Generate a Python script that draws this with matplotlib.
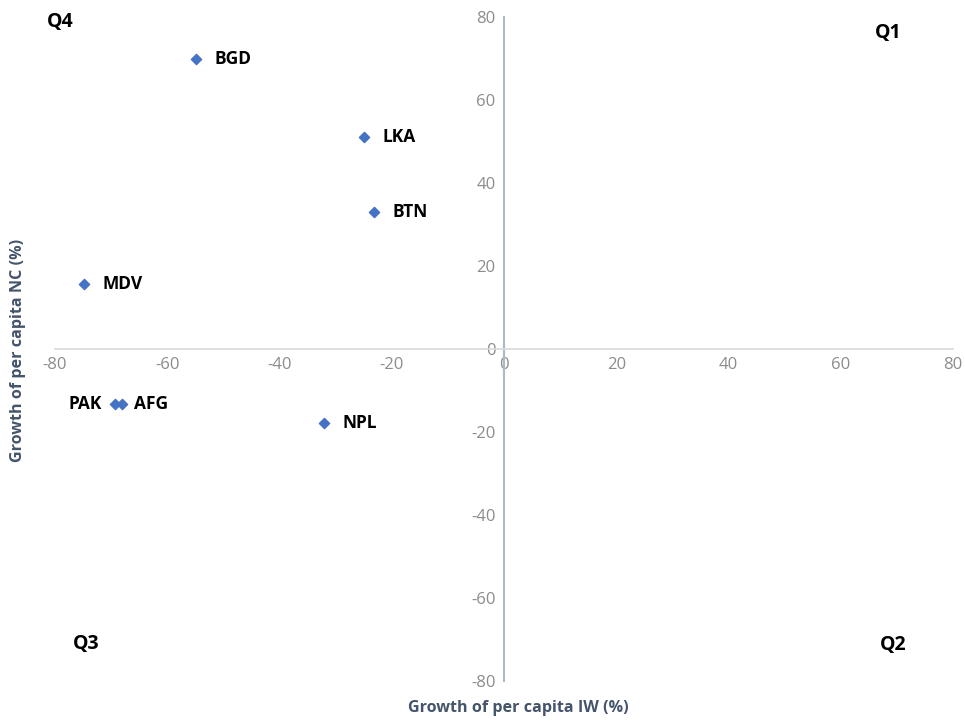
import matplotlib.pyplot as plt

plt.rcParams['font.family'] = ['Open Sans', 'DejaVu Sans']
plt.rcParams['axes.unicode_minus'] = False

# per capita growth by country (%)
countries = ["BGD", "LKA", "BTN", "MDV", "PAK", "AFG", "NPL"]
iw_growth = [-54.9, -25.0, -23.2, -74.9, -69.3, -68.1, -32.1]
nc_growth = [69.9, 51.0, 33.1, 15.6, -13.3, -13.3, -17.8]
ticks = [-80, -60, -40, -20, 0, 20, 40, 60, 80]

fig = plt.figure(figsize=(9.65, 7.22), dpi=100)
ax = fig.add_axes([0.057, 0.0568, 0.9306, 0.9197])

ax.scatter(iw_growth, nc_growth, marker="D", s=27, color="#4472c4", zorder=3)

# PAK and AFG overlap, so their labels go either side
offsets = {"PAK": (-9.5, "right"), "AFG": (8.5, "left")}
for name, x, y in zip(countries, iw_growth, nc_growth):
    off, ha = offsets.get(name, (13.5, "left"))
    ax.annotate(name, (x, y), xytext=(off, 0), textcoords="offset points",
                ha=ha, va="center", fontsize=12.5, fontweight="bold", color="black")

ax.set_xlim(-80, 80)
ax.set_ylim(-80, 80)
ax.set_xticks(ticks)
ax.set_yticks(ticks)

# axes cross at the origin
ax.spines["left"].set_position(("data", 0))
ax.spines["bottom"].set_position(("data", 0))
ax.spines["top"].set_visible(False)
ax.spines["right"].set_visible(False)
ax.spines["left"].set_color("#adb9ca")
ax.spines["left"].set_linewidth(1.5)
ax.spines["bottom"].set_color("#d9d9d9")
ax.spines["bottom"].set_linewidth(1.2)
ax.tick_params(length=0, labelsize=12, labelcolor="#8c8c8c", pad=6)

fig.text(0.537, 0.019, "Growth of per capita IW (%)", ha="center", va="center",
         fontsize=11.6, fontweight="bold", color="#44546a")
fig.text(0.019, 0.515, "Growth of per capita NC (%)", ha="center", va="center",
         rotation=90, fontsize=11.6, fontweight="bold", color="#44546a")

for label, fx, fy in [("Q4", 0.049, 0.970), ("Q1", 0.907, 0.954),
                      ("Q3", 0.076, 0.108), ("Q2", 0.912, 0.107)]:
    fig.text(fx, fy, label, ha="left", va="center", fontsize=14,
             fontweight="bold", color="black")

fig.savefig("out.png", dpi=100)
